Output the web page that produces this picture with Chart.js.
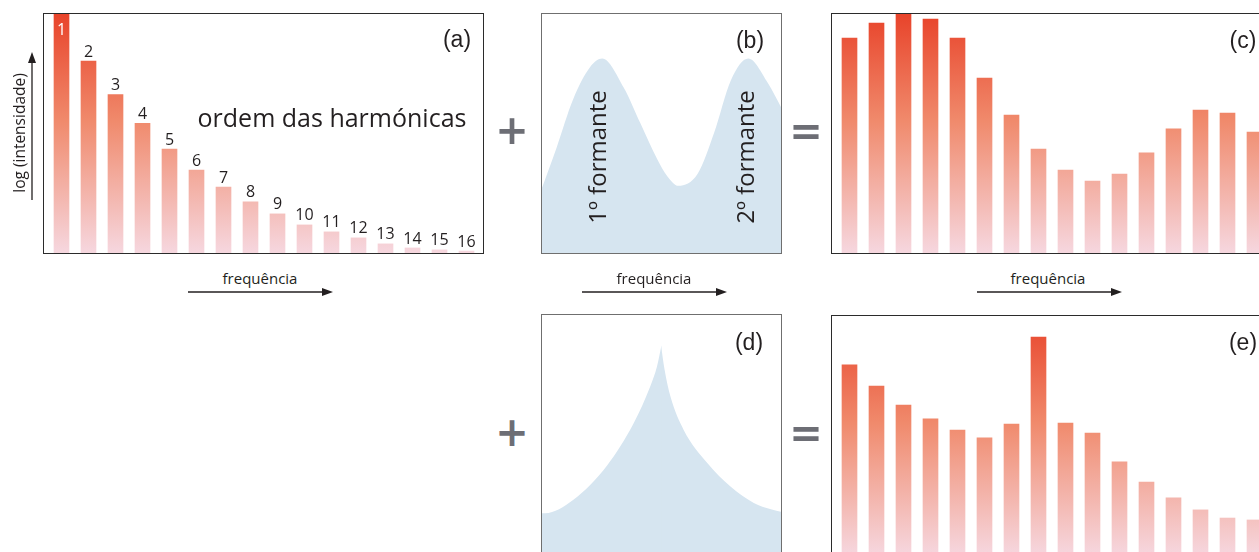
<!DOCTYPE html>
<html><head><meta charset="utf-8">
<script src="https://cdn.jsdelivr.net/npm/chart.js@4.4.1/dist/chart.umd.min.js"></script>
<style>
body{margin:0;width:1259px;height:552px;overflow:hidden;background:#fff;position:relative;font-family:'Open Sans',sans-serif;color:#231f20}
canvas{position:absolute;display:block}
.frame{position:absolute;box-sizing:border-box;border:1px solid #2b2b2b;pointer-events:none}
.frame.soft{border-color:#6f6f6f}
.t{position:absolute;transform:translate(-50%,-50%);line-height:1;white-space:nowrap}
.tag{font-family:'Liberation Sans',Arial,sans-serif;font-size:23px}
.freq{font-size:15px}
.op{font-family:'DejaVu Sans',sans-serif;font-weight:bold;font-size:40px;color:#6d6e75}
.rot{transform:translate(-50%,-50%) rotate(-90deg)}
svg{position:absolute;left:0;top:0}
</style>
</head><body>
<canvas id="chartA" width="441" height="240" style="left:43px;top:13px"></canvas>
<canvas id="chartB" width="241" height="240" style="left:541px;top:13px"></canvas>
<canvas id="chartC" width="441" height="240" style="left:831px;top:13px"></canvas>
<canvas id="chartD" width="241" height="240" style="left:541px;top:314px"></canvas>
<canvas id="chartE" width="441" height="240" style="left:831px;top:315px"></canvas>

<div class="frame" style="left:43px;top:13px;width:441px;height:241px"></div>
<div class="frame soft" style="left:541px;top:13px;width:241px;height:241px"></div>
<div class="frame" style="left:831px;top:13px;width:441px;height:241px"></div>
<div class="frame soft" style="left:541px;top:314px;width:241px;height:241px"></div>
<div class="frame" style="left:831px;top:315px;width:441px;height:241px"></div>

<div class="t tag" style="left:457px;top:39px">(a)</div>
<div class="t tag" style="left:750px;top:40px">(b)</div>
<div class="t tag" style="left:1243px;top:40px">(c)</div>
<div class="t tag" style="left:749px;top:342px">(d)</div>
<div class="t tag" style="left:1243px;top:342px">(e)</div>

<div class="t" style="left:332px;top:117px;font-size:25px">ordem das harmónicas</div>
<div class="t rot" style="left:20px;top:133px;font-size:15.5px">log (intensidade)</div>
<div class="t rot" style="left:597px;top:157px;font-size:24px">1º formante</div>
<div class="t rot" style="left:745px;top:157px;font-size:24px">2º formante</div>

<div class="t freq" style="left:260px;top:278px">frequência</div>
<div class="t freq" style="left:654px;top:278px">frequência</div>
<div class="t freq" style="left:1048px;top:278px">frequência</div>

<div class="t op" style="left:512px;top:130px">+</div>
<div class="t op" style="left:806px;top:131px">=</div>
<div class="t op" style="left:512px;top:432px">+</div>
<div class="t op" style="left:806px;top:433px">=</div>

<svg width="1259" height="552">
  <g stroke="#231f20" stroke-width="1.3" fill="#231f20">
    <line x1="188" y1="292" x2="324" y2="292"/><path d="M333 292 L322 288 L322 296 Z" stroke="none"/>
    <line x1="582" y1="292" x2="718" y2="292"/><path d="M727 292 L716 288 L716 296 Z" stroke="none"/>
    <line x1="977" y1="292" x2="1113" y2="292"/><path d="M1122 292 L1111 288 L1111 296 Z" stroke="none"/>
    <line x1="32" y1="200" x2="32" y2="61"/><path d="M32 52 L28 63 L36 63 Z" stroke="none"/>
  </g>
</svg>

<script>
// harmonic spectrum values, 0..100 of the panel height
const harmonicLabels=['1','2','3','4','5','6','7','8','9','10','11','12','13','14','15','16'];
const sourceLevels=[100,80,66,54,43.3,34.6,27.5,21.3,16.3,11.7,8.8,6.3,3.8,2.1,1.3,0.8];
const vowelLevels=[89.6,95.8,100,97.5,89.6,72.9,57.5,43.3,34.6,30,32.9,41.7,51.7,59.6,58.3,50.4];
const filteredLevels=[79.2,70.4,62.5,56.7,52.1,48.8,54.6,90.8,55,50.8,38.8,30.4,23.8,18.8,15.4,14.6];

// formant envelope (b)
const formantX=[0,6.5,13.3,20.4,25.4,34.3,41.3,48.3,52.4,57,65,71.8,78.8,86,94,100];
const formantY=[26,44,64,77.5,81,69,54,39,32,28,33,50,72,81,71,60];

// resonance envelope (d), split at the peak
const peakLeftX=[0,1.7,13.3,27.5,38.5,45.4,48.1,50];
const peakLeftY=[17,17,22.5,37,54.6,70,78,87];
const peakRightX=[49.8,51.25,53.75,59.2,69,78.75,88.3,95.4,100];
const peakRightY=[87,77,65.5,51.7,37.9,28,21.25,18.6,17.5];

const BLUE='#d6e5f0';

function barGradient(ctx){
  const a=ctx.chart.chartArea;
  if(!a)return '#f08a70';
  const g=ctx.chart.ctx.createLinearGradient(0,a.top,0,a.bottom);
  g.addColorStop(0,'#e8432a');
  g.addColorStop(0.45,'#f08a6c');
  g.addColorStop(1,'#f6d7df');
  return g;
}

const harmonicNumbers={
  id:'harmonicNumbers',
  afterDatasetsDraw(chart){
    const ctx=chart.ctx;
    const meta=chart.getDatasetMeta(0);
    ctx.save();
    ctx.font='16px "Open Sans"';
    ctx.textAlign='center';
    meta.data.forEach((bar,i)=>{
      const txt=chart.data.labels[i];
      if(i===0){ctx.fillStyle='#fff';ctx.textBaseline='middle';ctx.fillText(txt,bar.x,bar.y+17);}
      else{ctx.fillStyle='#231f20';ctx.textBaseline='bottom';ctx.fillText(txt,bar.x,bar.y-1);}
    });
    ctx.restore();
  }
};

function barChart(id,values,plugins){
  return new Chart(document.getElementById(id),{
    type:'bar',
    data:{labels:harmonicLabels,datasets:[{data:values,backgroundColor:barGradient,borderWidth:0,barThickness:15}]},
    options:{
      responsive:false,animation:false,events:[],
      layout:{padding:{left:5,right:4,top:0,bottom:0}},
      plugins:{legend:{display:false},tooltip:{enabled:false}},
      scales:{x:{display:false},y:{display:false,min:0,max:100}}
    },
    plugins:plugins||[]
  });
}

function envelope(xs,ys){
  return {data:xs.map((x,i)=>({x,y:ys[i]})),fill:'origin',backgroundColor:BLUE,borderWidth:0,pointRadius:0,cubicInterpolationMode:'monotone'};
}

function envelopeChart(id,datasets){
  return new Chart(document.getElementById(id),{
    type:'line',
    data:{datasets},
    options:{
      responsive:false,animation:false,events:[],
      layout:{padding:0},
      plugins:{legend:{display:false},tooltip:{enabled:false}},
      scales:{x:{type:'linear',display:false,min:0,max:100},y:{display:false,min:0,max:100}}
    }
  });
}

barChart('chartA',sourceLevels,[harmonicNumbers]);
envelopeChart('chartB',[envelope(formantX,formantY)]);
barChart('chartC',vowelLevels);
envelopeChart('chartD',[envelope(peakLeftX,peakLeftY),envelope(peakRightX,peakRightY)]);
barChart('chartE',filteredLevels);
</script>
</body></html>
